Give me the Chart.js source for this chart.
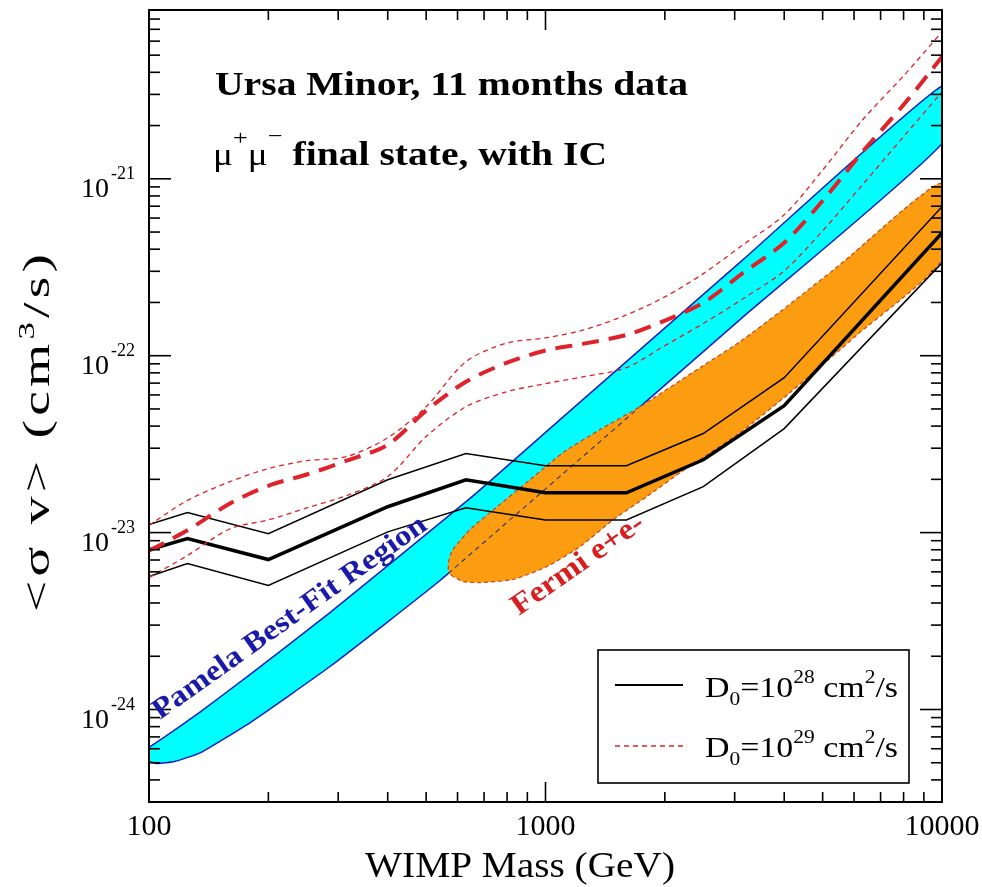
<!DOCTYPE html>
<html>
<head>
<meta charset="utf-8">
<title>Ursa Minor, 11 months data</title>
<script src="https://cdn.jsdelivr.net/npm/chart.js@4.4.1/dist/chart.umd.min.js"></script>
<style>
  html, body { margin: 0; padding: 0; background: #fff; }
  #wrap { position: relative; width: 982px; height: 887px; }
</style>
</head>
<body>
<div id="wrap"><canvas id="chart"></canvas></div>
<script>
// D0 = 1e28 cm^2/s : central curve and band (cm^3/s)
const massD28 = [100, 125, 200, 400, 630, 1000, 1600, 2500, 4000, 10000];
const sigmaD28 = [8.0e-24, 9.25e-24, 7.04e-24, 1.40e-23, 1.99e-23, 1.68e-23, 1.68e-23, 2.58e-23, 5.22e-23, 4.95e-22];
const sigmaD28Hi = [1.11e-23, 1.30e-23, 9.87e-24, 1.99e-23, 2.80e-23, 2.39e-23, 2.39e-23, 3.63e-23, 7.51e-23, 6.95e-22];
const sigmaD28Lo = [5.64e-24, 6.68e-24, 5.02e-24, 1.01e-23, 1.38e-23, 1.18e-23, 1.18e-23, 1.82e-23, 3.87e-23, 3.35e-22];

// D0 = 1e29 cm^2/s
const massD29 = [100, 125, 160, 200, 250, 315, 400, 500, 630, 800, 1000, 1250, 1600, 2000, 2500, 3150, 4000, 5000, 6300, 8000, 10000];
const sigmaD29 = [7.9e-24, 1.03e-23, 1.46e-23, 1.84e-23, 2.13e-23, 2.55e-23, 3.14e-23, 4.89e-23, 7.13e-23, 9.13e-23, 1.07e-22, 1.17e-22, 1.31e-22, 1.58e-22, 1.99e-22, 2.94e-22, 4.35e-22, 7.51e-22, 1.42e-21, 2.62e-21, 4.89e-21];
const sigmaD29Hi = [1.10e-23, 1.52e-23, 1.94e-23, 2.30e-23, 2.55e-23, 2.69e-23, 3.44e-23, 5.15e-23, 9.25e-23, 1.18e-22, 1.26e-22, 1.40e-22, 1.70e-22, 2.15e-22, 2.91e-22, 4.24e-22, 6.26e-22, 1.12e-21, 2.15e-21, 3.82e-21, 6.77e-21];
const sigmaD29Lo = [5.57e-24, 7.42e-24, 1.05e-23, 1.18e-23, 1.38e-23, 1.62e-23, 2.07e-23, 3.49e-23, 5.15e-23, 6.26e-23, 6.95e-23, 7.61e-23, 8.56e-23, 1.14e-22, 1.52e-22, 2.10e-22, 3.02e-22, 5.08e-22, 9.25e-22, 1.73e-21, 3.10e-21];

// Pamela best-fit region, upper and lower edge
const pamelaUpMass = [100, 110, 135, 180, 286, 645, 1088, 3150, 10000];
const pamelaUp = [6.10e-25, 7.04e-25, 9.74e-25, 1.58e-24, 3.53e-24, 1.56e-23, 4.35e-23, 3.49e-22, 3.35e-21];
const pamelaLoMass = [100, 105, 116, 135, 180, 286, 542, 1088, 3094, 10000];
const pamelaLo = [5.08e-25, 4.95e-25, 5.08e-25, 5.71e-25, 8.44e-25, 1.75e-24, 5.36e-24, 2.07e-23, 1.60e-22, 1.58e-21];
// stretch of the Pamela lower edge that shows through the Fermi region
const pamelaHiddenMass = [568, 1682];
const pamelaHidden = [5.87e-24, 4.86e-23];

// Fermi e+e- region
const fermiUpMass = [568, 571, 584, 645, 755, 914, 1107, 1372, 1731, 2453, 3094, 3903, 5530, 10000];
const fermiUp = [6.18e-24, 7.04e-24, 8.02e-24, 1.04e-23, 1.40e-23, 1.99e-23, 2.83e-23, 3.82e-23, 5.15e-23, 8.56e-23, 1.20e-22, 1.77e-22, 3.27e-22, 9.49e-22];
const fermiLoMass = [574, 619, 684, 828, 1009, 1222, 1480, 1803, 2184, 3094, 4136, 6105, 10000];
const fermiLo = [5.79e-24, 5.29e-24, 5.22e-24, 5.43e-24, 6.43e-24, 8.33e-24, 1.18e-23, 1.60e-23, 2.18e-23, 3.67e-23, 6.18e-23, 1.31e-22, 3.49e-22];

const xTicks = [100, 1000, 10000];
const xTickLabels = ['100', '1000', '10000'];
const yTicks = [1e-24, 1e-23, 1e-22, 1e-21];
const yTickExp = ['-24', '-23', '-22', '-21'];

const SERIF = '"Liberation Serif", "Times New Roman", serif';
const RED = '#e0222a';

const pts = (xs, ys) => xs.map((x, i) => ({ x: x, y: ys[i] }));
const shape = (xu, yu, xl, yl) => pts(xu, yu).concat(pts(xl, yl).reverse());

const curve = (data, color, width, dash, order, tension) => ({
  data: data,
  showLine: true,
  borderColor: color,
  borderWidth: width,
  borderDash: dash,
  pointRadius: 0,
  pointHoverRadius: 0,
  fill: false,
  tension: tension || 0,
  order: order
});

// draws a run of text pieces fitted to a given width; with opt.stretch the
// glyphs are widened by that factor and the rest is made up with spacing
function drawParts(ctx, parts, x, y, opt) {
  opt = opt || {};
  let w = 0, n = 0;
  parts.forEach(p => { ctx.font = p.font; w += ctx.measureText(p.text).width; n += p.text.length; });
  let k = 1, sp = 0;
  if (opt.width && opt.stretch) {
    k = opt.stretch;
    sp = (opt.width / k - w) / Math.max(1, n - 1);
  } else if (opt.width) {
    k = opt.width / w;
  }
  ctx.save();
  ctx.translate(x, y);
  if (opt.angle) ctx.rotate(opt.angle);
  ctx.scale(k, 1);
  ctx.fillStyle = opt.color || '#000';
  ctx.textAlign = 'left';
  ctx.textBaseline = 'alphabetic';
  let cx = 0;
  parts.forEach(p => {
    ctx.font = p.font;
    if (sp) {
      for (const ch of p.text) {
        ctx.fillText(ch, cx, p.dy || 0);
        cx += ctx.measureText(ch).width + sp;
      }
    } else {
      ctx.fillText(p.text, cx, p.dy || 0);
      cx += ctx.measureText(p.text).width;
    }
  });
  ctx.restore();
}

const decorations = {
  id: 'decorations',
  afterDraw(chart) {
    const ctx = chart.ctx;
    const a = chart.chartArea;
    const xs = chart.scales.x;
    const ys = chart.scales.y;

    ctx.save();
    ctx.strokeStyle = '#000';
    ctx.lineWidth = 1.6;
    const seg = (x1, y1, x2, y2) => { ctx.beginPath(); ctx.moveTo(x1, y1); ctx.lineTo(x2, y2); ctx.stroke(); };

    // ticks on all four sides, pointing inwards
    for (let d = 2; d <= 4; d++) {
      for (let k = 1; k <= 9; k++) {
        const v = Number(k + 'e' + d);
        if (v < xs.min || v > xs.max) continue;
        const px = xs.getPixelForValue(v);
        const len = k === 1 ? 20 : 10;
        seg(px, a.bottom, px, a.bottom - len);
        seg(px, a.top, px, a.top + len);
      }
    }
    for (let d = -25; d <= -21; d++) {
      for (let k = 1; k <= 9; k++) {
        const v = Number(k + 'e' + d);
        if (v < ys.min * 0.999 || v > ys.max * 1.001) continue;
        const py = ys.getPixelForValue(v);
        const len = k === 1 ? 22 : 11;
        seg(a.left, py, a.left + len, py);
        seg(a.right, py, a.right - len, py);
      }
    }

    // frame
    ctx.lineWidth = 2;
    ctx.strokeRect(a.left, a.top, a.right - a.left, a.bottom - a.top);

    // tick labels
    ctx.fillStyle = '#000';
    ctx.textBaseline = 'alphabetic';
    ctx.font = '30px ' + SERIF;
    ctx.textAlign = 'center';
    xTicks.forEach((v, i) => ctx.fillText(xTickLabels[i], xs.getPixelForValue(v), a.bottom + 33));
    yTicks.forEach((v, i) => {
      const py = ys.getPixelForValue(v);
      ctx.textAlign = 'right';
      ctx.font = '28px ' + SERIF;
      ctx.fillText('10', a.left - 40, py + 18);
      ctx.textAlign = 'left';
      ctx.font = '18px ' + SERIF;
      ctx.fillText(yTickExp[i], a.left - 38, py);
    });

    // axis titles
    drawParts(ctx, [{ text: 'WIMP Mass (GeV)', font: '36px ' + SERIF }], 365, 877, { width: 310 });
    drawParts(ctx, [
      { text: '<\u03c3 v> (cm', font: '37px ' + SERIF },
      { text: '3', font: '23px ' + SERIF, dy: -15 },
      { text: '/s)', font: '37px ' + SERIF }
    ], 49, 612, { width: 358, stretch: 1.5, angle: -Math.PI / 2 });

    // labels inside the frame
    drawParts(ctx, [{ text: 'Ursa Minor, 11 months data', font: 'bold 33px ' + SERIF }], 215, 95, { width: 473 });
    drawParts(ctx, [
      { text: '\u03bc', font: '31px ' + SERIF },
      { text: '+', font: '22px ' + SERIF, dy: -20 },
      { text: '\u03bc', font: '31px ' + SERIF },
      { text: '\u2212', font: '22px ' + SERIF, dy: -22 },
      { text: ' final state, with IC', font: 'bold 33px ' + SERIF }
    ], 213, 165, { width: 394 });
    drawParts(ctx, [{ text: 'Pamela Best-Fit Region', font: 'bold 29px ' + SERIF }],
      160, 720, { width: 330, angle: -35.5 * Math.PI / 180, color: '#1a1aaa' });
    drawParts(ctx, [{ text: 'Fermi e+e-', font: 'bold 30px ' + SERIF }],
      519, 616, { width: 155, angle: -35 * Math.PI / 180, color: '#d81e1e' });

    // legend box
    ctx.fillStyle = '#fff';
    ctx.fillRect(598, 650, 311, 133);
    ctx.lineWidth = 1.6;
    ctx.strokeStyle = '#000';
    ctx.strokeRect(598, 650, 311, 133);
    ctx.lineWidth = 1.8;
    seg(615, 685, 683, 685);
    ctx.strokeStyle = RED;
    ctx.lineWidth = 1.3;
    ctx.setLineDash([5, 4]);
    seg(615, 746, 683, 746);
    ctx.setLineDash([]);
    const entry = exp => [
      { text: 'D', font: '30px ' + SERIF },
      { text: '0', font: '19px ' + SERIF, dy: 8 },
      { text: '=10', font: '30px ' + SERIF },
      { text: exp, font: '19px ' + SERIF, dy: -14 },
      { text: ' cm', font: '30px ' + SERIF },
      { text: '2', font: '19px ' + SERIF, dy: -14 },
      { text: '/s', font: '30px ' + SERIF }
    ];
    drawParts(ctx, entry('28'), 705, 697, { width: 193 });
    drawParts(ctx, entry('29'), 705, 757, { width: 193 });
    ctx.restore();
  }
};

new Chart(document.getElementById('chart'), {
  type: 'scatter',
  data: {
    datasets: [
      Object.assign(curve(shape(pamelaUpMass, pamelaUp, pamelaLoMass, pamelaLo), '#1020c0', 1.5, [], 10, 0.15),
        { fill: 'shape', backgroundColor: '#00ffff' }),
      Object.assign(curve(shape(fermiUpMass, fermiUp, fermiLoMass, fermiLo), 'rgba(190,60,25,0.9)', 1.2, [4, 3], 9, 0.2),
        { fill: 'shape', backgroundColor: '#fc9c10' }),
      curve(pts(pamelaHiddenMass, pamelaHidden), '#3b3b66', 1.2, [5, 4], 8),
      curve(pts(massD28, sigmaD28Hi), '#000', 1.5, [], 5),
      curve(pts(massD28, sigmaD28Lo), '#000', 1.5, [], 5),
      curve(pts(massD28, sigmaD28), '#000', 3.5, [], 4),
      curve(pts(massD29, sigmaD29Hi), RED, 1.3, [5, 4], 3, 0.3),
      curve(pts(massD29, sigmaD29Lo), RED, 1.3, [5, 4], 3, 0.3),
      curve(pts(massD29, sigmaD29), RED, 4, [17, 10], 2, 0.3)
    ]
  },
  options: {
    responsive: true,
    maintainAspectRatio: false,
    animation: false,
    events: [],
    layout: { padding: { left: 149, top: 10, right: 40, bottom: 85 } },
    scales: {
      x: { type: 'logarithmic', min: 100, max: 10000, display: false },
      y: { type: 'logarithmic', min: 3e-25, max: 9e-21, display: false }
    },
    plugins: {
      legend: { display: false },
      tooltip: { enabled: false }
    }
  },
  plugins: [decorations]
});
</script>
</body>
</html>
